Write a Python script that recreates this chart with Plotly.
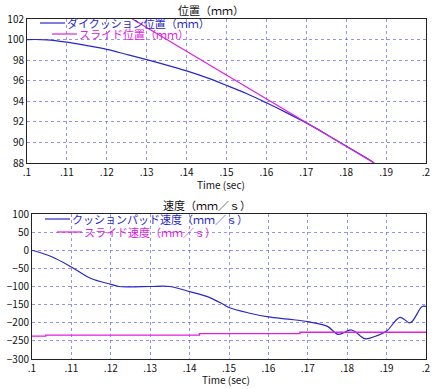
import plotly.graph_objects as go

# ---------- data ----------
t_pos_die = [0.100, 0.105, 0.110, 0.115, 0.120, 0.125, 0.130, 0.135, 0.140, 0.145,
             0.150, 0.155, 0.160, 0.165, 0.170, 0.175, 0.180, 0.185, 0.187]
pos_die = [100.0, 99.98, 99.75, 99.42, 99.05, 98.55, 98.05, 97.52, 96.95, 96.30,
           95.55, 94.75, 93.85, 92.90, 91.90, 90.80, 89.65, 88.50, 88.0]

t_pos_slide = [0.100, 0.1265, 0.150, 0.170, 0.187]
pos_slide = [108.1, 102.0, 96.6, 91.95, 88.0]

t_vel_pad = [0.100, 0.105, 0.110, 0.115, 0.120, 0.122, 0.125, 0.130, 0.135, 0.140,
             0.145, 0.1485, 0.150, 0.155, 0.160, 0.165, 0.170, 0.175, 0.1777,
             0.1811, 0.1845, 0.187, 0.190, 0.1934, 0.196, 0.199, 0.200]
vel_pad = [0, -18, -46, -78, -94, -100, -101, -100, -100, -114,
           -130, -149, -158, -173, -184, -190, -197, -210, -232,
           -220, -244, -238, -223, -185, -200, -155, -155]

t_vel_slide = [0.100, 0.1035, 0.1425, 0.168, 0.200]
vel_slide = [-237, -234, -230, -226, -226]

x_ticks = [0.10, 0.11, 0.12, 0.13, 0.14, 0.15, 0.16, 0.17, 0.18, 0.19, 0.20]
x_ticktext = [".1", ".11", ".12", ".13", ".14", ".15", ".16", ".17", ".18", ".19", ".2"]
pos_ticks = [88, 90, 92, 94, 96, 98, 100, 102]
vel_ticks = [-300, -250, -200, -150, -100, -50, 0, 50, 100]

title_pos = "位置（ｍｍ）"
title_vel = "速度（ｍｍ／ｓ）"
leg_pos = ["ダイクッション位置（ｍｍ）", "スライド位置（ｍｍ）"]
leg_vel = ["クッションパッド速度（ｍｍ／ｓ）", "スライド速度（ｍｍ／ｓ）"]
xlabel = "Time (sec)"

# ---------- styling ----------
W, H = 441, 389
BLUE = "#2828c8"
MAG = "#e020e0"
GRID = "rgba(90,90,240,0.65)"
FONT = "Noto Sans CJK JP"

def px(x):
    return x / W

def py(y):
    return 1 - y / H

fig = go.Figure()
fig.add_trace(go.Scatter(x=t_pos_die, y=pos_die, mode="lines", line=dict(color=BLUE, width=1.2),
                         xaxis="x", yaxis="y", line_shape="spline"))
fig.add_trace(go.Scatter(x=t_pos_slide, y=pos_slide, mode="lines", line=dict(color=MAG, width=1.2),
                         xaxis="x", yaxis="y"))
fig.add_trace(go.Scatter(x=t_vel_pad, y=vel_pad, mode="lines", line=dict(color=BLUE, width=1.2),
                         xaxis="x2", yaxis="y2", line_shape="spline"))
fig.add_trace(go.Scatter(x=t_vel_slide, y=vel_slide, mode="lines", line=dict(color=MAG, width=1.4),
                         xaxis="x2", yaxis="y2", line_shape="hv"))

axis_common = dict(showgrid=True, gridcolor=GRID, griddash="dot", gridwidth=1,
                   showline=True, linecolor="#222", linewidth=1, mirror=True,
                   ticks="", zeroline=False, automargin=False,
                   tickfont=dict(family=FONT, size=10, color="#111"))

fig.update_layout(
    width=W, height=H, margin=dict(l=0, r=0, t=0, b=0, autoexpand=False),
    paper_bgcolor="white", plot_bgcolor="white", showlegend=False,
    xaxis=dict(domain=[px(27), px(426)], range=[0.1, 0.2], anchor="y",
               tickvals=x_ticks, ticktext=x_ticktext, **axis_common),
    yaxis=dict(domain=[py(163), py(19)], range=[88, 102], anchor="x",
               tickvals=pos_ticks, **axis_common),
    xaxis2=dict(domain=[px(32), px(426)], range=[0.1, 0.2], anchor="y2",
                tickvals=x_ticks, ticktext=x_ticktext, **axis_common),
    yaxis2=dict(domain=[py(359), py(214)], range=[-300, 100], anchor="x2",
                tickvals=vel_ticks, **axis_common),
)

ann = []
shapes = []

def text(x, y, s, color="#111", size=11, xanchor="center"):
    ann.append(dict(x=px(x), y=py(y), xref="paper", yref="paper", text=s, showarrow=False,
                    xanchor=xanchor, yanchor="middle",
                    font=dict(family=FONT, size=size, color=color)))

def legline(x0, x1, y, color):
    shapes.append(dict(type="line", xref="paper", yref="paper", x0=px(x0), x1=px(x1),
                       y0=py(y), y1=py(y), line=dict(color=color, width=1.2)))

text(211, 10, title_pos)
text(207, 205, title_vel)
text(221, 184, xlabel, size=10)
text(226, 379, xlabel, size=10)

legline(40, 65, 23, BLUE)
text(65, 23, leg_pos[0], BLUE, xanchor="left")
legline(52, 77, 34, MAG)
text(77, 34, leg_pos[1], MAG, xanchor="left")

legline(45, 70, 219, BLUE)
text(70, 219, leg_vel[0], BLUE, xanchor="left")
legline(57, 82, 232, MAG)
text(82, 232, leg_vel[1], MAG, xanchor="left")

fig.update_layout(annotations=ann, shapes=shapes)
fig.write_html("out.html", config={"displayModeBar": False})

with open("out.html", encoding="utf-8") as f:
    html = f.read()
html = html.replace("<head>", "<head><style>html,body{margin:0;padding:0;overflow:hidden;}</style>", 1)
with open("out.html", "w", encoding="utf-8") as f:
    f.write(html)
